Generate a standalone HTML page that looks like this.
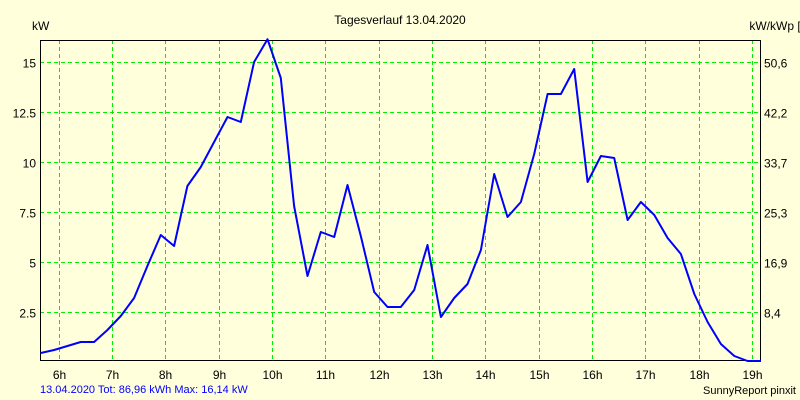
<!DOCTYPE html>
<html><head><meta charset="utf-8"><style>
body{margin:0;background:#ffffdc;}
svg{display:block;font-family:"Liberation Sans",sans-serif;font-size:12px;}
</style></head><body>
<svg id="c" width="800" height="400">
<rect x="0" y="0" width="800" height="400" fill="#ffffdc"/>
<text x="400" y="24" text-anchor="middle">Tagesverlauf 13.04.2020</text>
<text x="32" y="30">kW</text>
<text x="782" y="30" text-anchor="middle">kW/kWp [%]</text>
<g id="grid"></g>
<g id="axes"></g>
<text x="40" y="393" fill="#0000ff" font-size="11">13.04.2020 Tot: 86,96 kWh Max: 16,14 kW</text>
<text x="796" y="394" text-anchor="end" font-size="11">SunnyReport pinxit</text>
</svg>
<script>
const hourTicks=[6,7,8,9,10,11,12,13,14,15,16,17,18,19];
const kwTicks=[2.5,5,7.5,10,12.5,15];
const pctLabels=["8,4","16,9","25,3","33,7","42,2","50,6"];
const kwLabels=["2.5","5","7.5","10","12.5","15"];
const startHour=5.667, stepHour=0.25;
const power=[0.45,0.6,0.8,1.0,1.0,1.6,2.3,3.2,4.8,6.35,5.8,8.8,9.75,11.0,12.25,12.0,15.0,16.14,14.2,7.8,4.3,6.5,6.25,8.85,6.3,3.5,2.75,2.75,3.6,5.85,2.25,3.2,3.9,5.6,9.4,7.25,8.0,10.4,13.4,13.4,14.65,9.0,10.3,10.2,7.1,8.0,7.35,6.2,5.4,3.4,2.0,0.9,0.3,0.05,0.05];
const L=40,R=760,T=40,B=360;
const xS=h=>58.5+(h-6)*53.35;
const yS=v=>362-v*20;
const NS="http://www.w3.org/2000/svg";
const svg=document.getElementById('c'),grid=document.getElementById('grid'),axes=document.getElementById('axes');
function mk(tag,at,parent){const e=document.createElementNS(NS,tag);for(const k in at)e.setAttribute(k,at[k]);(parent||svg).appendChild(e);return e;}
hourTicks.forEach(h=>{const x=Math.round(xS(h))+0.5;
 const l=mk('line',{x1:x,x2:x,y1:T,y2:B,stroke:'#00ee00','stroke-dasharray':'4,3'},grid);
 
 
 const t=mk('text',{x:x,y:379,'text-anchor':'middle'},axes);t.textContent=h+'h';
 
 });
kwTicks.forEach((v,i)=>{const y=Math.round(yS(v))+0.5;
 const l=mk('line',{x1:L,x2:R,y1:y,y2:y,stroke:'#00ee00','stroke-dasharray':'4,3'},grid);
 
 
 const t=mk('text',{x:36,y:y+5,'text-anchor':'end'},axes);t.textContent=kwLabels[i];
 
 
 const t2=mk('text',{x:764,y:y+5},axes);t2.textContent=pctLabels[i];
 
 });
const fr=mk('rect',{x:L+0.5,y:T+0.5,width:R-L,height:B-T,fill:'none',stroke:'#000'},axes);


const pts=power.map((v,i)=>xS(startHour+i*stepHour).toFixed(1)+','+yS(v).toFixed(1)).join(' ');
const pl=mk('polyline',{points:pts,fill:'none',stroke:'#0000ff','stroke-width':2,'stroke-linejoin':'round'});


</script>
</body></html>
